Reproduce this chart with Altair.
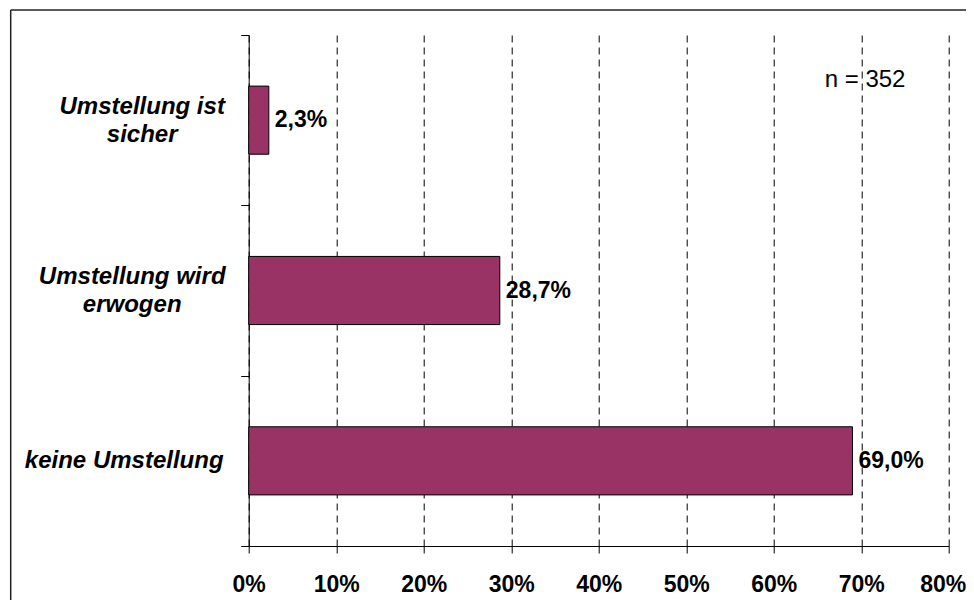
import altair as alt
import pandas as pd

categories = ["Umstellung ist sicher", "Umstellung wird erwogen", "keine Umstellung"]
values = [2.3, 28.7, 69.0]
value_labels = ["2,3%", "28,7%", "69,0%"]
x_ticks = [0, 10, 20, 30, 40, 50, 60, 70, 80]
n_note = "n = 352"

FONT = "Liberation Sans"
BAR_COLOR = "#993366"

df = pd.DataFrame({"cat": categories, "val": values, "lbl": value_labels})

label_expr = (
    "datum.value == 'Umstellung ist sicher' ? ['Umstellung ist', 'sicher'] : "
    "datum.value == 'Umstellung wird erwogen' ? ['Umstellung wird', 'erwogen'] : datum.label"
)

x_enc = alt.X(
    "val:Q",
    title=None,
    scale=alt.Scale(domain=[0, 80], nice=False),
    axis=alt.Axis(
        values=x_ticks,
        labelExpr="datum.value + '%'",
        grid=True,
        gridDash=[7, 5],
        gridColor="black",
        gridWidth=1,
        tickSize=7,
        tickColor="black",
        domainColor="black",
        labelFont=FONT,
        labelFontSize=23,
        labelFontWeight="bold",
        labelColor="black",
        labelPadding=20,
        labelFlush=False,
        labelOverlap=False,
        labelOffset={
            "condition": {"test": "datum.value == 80", "value": -6},
            "value": 0,
        },
    ),
)

y_enc = alt.Y(
    "cat:N",
    sort=categories,
    title=None,
    scale=alt.Scale(paddingInner=0, paddingOuter=0),
    axis=alt.Axis(
        tickBand="extent",
        tickSize=8,
        tickColor="black",
        domainColor="black",
        grid=False,
        labelFont=FONT,
        labelFontSize=24,
        labelFontStyle="italic",
        labelFontWeight="bold",
        labelColor="black",
        labelAlign="center",
        labelBaseline="middle",
        labelLineHeight=28,
        labelLimit=0,
        labelExpr=label_expr,
        labelOffset={
            "condition": {"test": "datum.value != 'keine Umstellung'", "value": -14},
            "value": 0,
        },
        labelPadding={
            "condition": [
                {"test": "datum.value == 'keine Umstellung'", "value": 117},
                {"test": "datum.value == 'Umstellung wird erwogen'", "value": 109},
            ],
            "value": 99,
        },
    ),
)

base = alt.Chart(df)

bars = base.mark_bar(
    height={"band": 0.4}, color=BAR_COLOR, stroke="black", strokeWidth=1
).encode(x=x_enc, y=y_enc)

texts = base.mark_text(
    align="left", baseline="middle", dx=6, font=FONT, fontSize=23,
    fontWeight="bold", color="black"
).encode(x="val:Q", y=alt.Y("cat:N", sort=categories), text="lbl:N")

note = alt.Chart(pd.DataFrame({"t": [n_note]})).mark_text(
    align="left", baseline="middle", font=FONT, fontSize=24, color="black"
).encode(text="t:N", x=alt.value(576), y=alt.value(45))

frame_df = pd.DataFrame({"a": [0]})
frame_left = alt.Chart(frame_df).mark_rule(color="#222222", strokeWidth=1.5).encode(
    x=alt.value(-238), y=alt.value(-25), y2=alt.value(570)
)
frame_top = alt.Chart(frame_df).mark_rule(color="#222222", strokeWidth=1.5).encode(
    x=alt.value(-238), x2=alt.value(720), y=alt.value(-25)
)

chart = (
    alt.layer(bars, texts, note, frame_left, frame_top)
    .properties(
        width=700,
        height=511,
        autosize=alt.AutoSizeParams(type="none"),
        padding={"left": 240.7, "top": 27, "right": 17.3, "bottom": 54},
        background="white",
    )
    .configure_view(stroke=None)
)

chart.save("out.html", embed_options={"renderer": "svg", "actions": False})
